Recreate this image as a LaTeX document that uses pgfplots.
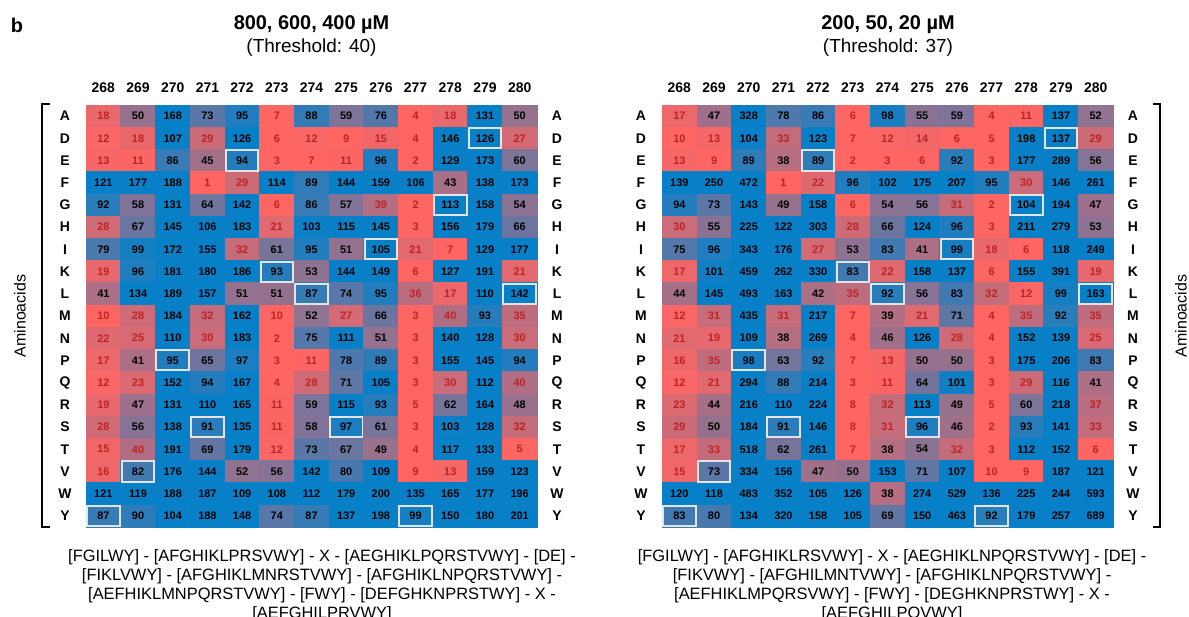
\documentclass[border=0pt]{standalone}
\usepackage{fontspec}
\setmainfont{Liberation Sans}
\usepackage{pgfplots}
\pgfplotsset{compat=1.18}
\usepackage{pgfplotstable}
\definecolor{numred}{RGB}{190,35,35}
\definecolor{boxc}{RGB}{228,228,228}

% 800, 600, 400 uM ; rows A D E F G H I K L M N P Q R S T V W Y ; columns 268..280
\pgfplotstableread[row sep=\\]{
v\\
18\\ 50\\ 168\\ 73\\ 95\\ 7\\ 88\\ 59\\ 76\\ 4\\ 18\\ 131\\ 50\\
12\\ 18\\ 107\\ 29\\ 126\\ 6\\ 12\\ 9\\ 15\\ 4\\ 146\\ 126\\ 27\\
13\\ 11\\ 86\\ 45\\ 94\\ 3\\ 7\\ 11\\ 96\\ 2\\ 129\\ 173\\ 60\\
121\\ 177\\ 188\\ 1\\ 29\\ 114\\ 89\\ 144\\ 159\\ 106\\ 43\\ 138\\ 173\\
92\\ 58\\ 131\\ 64\\ 142\\ 6\\ 86\\ 57\\ 39\\ 2\\ 113\\ 158\\ 54\\
28\\ 67\\ 145\\ 106\\ 183\\ 21\\ 103\\ 115\\ 145\\ 3\\ 156\\ 179\\ 66\\
79\\ 99\\ 172\\ 155\\ 32\\ 61\\ 95\\ 51\\ 105\\ 21\\ 7\\ 129\\ 177\\
19\\ 96\\ 181\\ 180\\ 186\\ 93\\ 53\\ 144\\ 149\\ 6\\ 127\\ 191\\ 21\\
41\\ 134\\ 189\\ 157\\ 51\\ 51\\ 87\\ 74\\ 95\\ 36\\ 17\\ 110\\ 142\\
10\\ 28\\ 184\\ 32\\ 162\\ 10\\ 52\\ 27\\ 66\\ 3\\ 40\\ 93\\ 35\\
22\\ 25\\ 110\\ 30\\ 183\\ 2\\ 75\\ 111\\ 51\\ 3\\ 140\\ 128\\ 30\\
17\\ 41\\ 95\\ 65\\ 97\\ 3\\ 11\\ 78\\ 89\\ 3\\ 155\\ 145\\ 94\\
12\\ 23\\ 152\\ 94\\ 167\\ 4\\ 28\\ 71\\ 105\\ 3\\ 30\\ 112\\ 40\\
19\\ 47\\ 131\\ 110\\ 165\\ 11\\ 59\\ 115\\ 93\\ 5\\ 62\\ 164\\ 48\\
28\\ 56\\ 138\\ 91\\ 135\\ 11\\ 58\\ 97\\ 61\\ 3\\ 103\\ 128\\ 32\\
15\\ 40\\ 191\\ 69\\ 179\\ 12\\ 73\\ 67\\ 49\\ 4\\ 117\\ 133\\ 5\\
16\\ 82\\ 176\\ 144\\ 52\\ 56\\ 142\\ 80\\ 109\\ 9\\ 13\\ 159\\ 123\\
121\\ 119\\ 188\\ 187\\ 109\\ 108\\ 112\\ 179\\ 200\\ 135\\ 165\\ 177\\ 196\\
87\\ 90\\ 104\\ 188\\ 148\\ 74\\ 87\\ 137\\ 198\\ 99\\ 150\\ 180\\ 201\\
}\tabL

% 200, 50, 20 uM
\pgfplotstableread[row sep=\\]{
v\\
17\\ 47\\ 328\\ 78\\ 86\\ 6\\ 98\\ 55\\ 59\\ 4\\ 11\\ 137\\ 52\\
10\\ 13\\ 104\\ 33\\ 123\\ 7\\ 12\\ 14\\ 6\\ 5\\ 198\\ 137\\ 29\\
13\\ 9\\ 89\\ 38\\ 89\\ 2\\ 3\\ 6\\ 92\\ 3\\ 177\\ 289\\ 56\\
139\\ 250\\ 472\\ 1\\ 22\\ 96\\ 102\\ 175\\ 207\\ 95\\ 30\\ 146\\ 261\\
94\\ 73\\ 143\\ 49\\ 158\\ 6\\ 54\\ 56\\ 31\\ 2\\ 104\\ 194\\ 47\\
30\\ 55\\ 225\\ 122\\ 303\\ 28\\ 66\\ 124\\ 96\\ 3\\ 211\\ 279\\ 53\\
75\\ 96\\ 343\\ 176\\ 27\\ 53\\ 83\\ 41\\ 99\\ 18\\ 6\\ 118\\ 249\\
17\\ 101\\ 459\\ 262\\ 330\\ 83\\ 22\\ 158\\ 137\\ 6\\ 155\\ 391\\ 19\\
44\\ 145\\ 493\\ 163\\ 42\\ 35\\ 92\\ 56\\ 83\\ 32\\ 12\\ 99\\ 163\\
12\\ 31\\ 435\\ 31\\ 217\\ 7\\ 39\\ 21\\ 71\\ 4\\ 35\\ 92\\ 35\\
21\\ 19\\ 109\\ 38\\ 269\\ 4\\ 46\\ 126\\ 28\\ 4\\ 152\\ 139\\ 25\\
16\\ 35\\ 98\\ 63\\ 92\\ 7\\ 13\\ 50\\ 50\\ 3\\ 175\\ 206\\ 83\\
12\\ 21\\ 294\\ 88\\ 214\\ 3\\ 11\\ 64\\ 101\\ 3\\ 29\\ 116\\ 41\\
23\\ 44\\ 216\\ 110\\ 224\\ 8\\ 32\\ 113\\ 49\\ 5\\ 60\\ 218\\ 37\\
29\\ 50\\ 184\\ 91\\ 146\\ 8\\ 31\\ 96\\ 46\\ 2\\ 93\\ 141\\ 33\\
17\\ 33\\ 518\\ 62\\ 261\\ 7\\ 38\\ 54\\ 32\\ 3\\ 112\\ 152\\ 6\\
15\\ 73\\ 334\\ 156\\ 47\\ 50\\ 153\\ 71\\ 107\\ 10\\ 9\\ 187\\ 121\\
120\\ 118\\ 483\\ 352\\ 105\\ 126\\ 38\\ 274\\ 529\\ 136\\ 225\\ 244\\ 593\\
83\\ 80\\ 134\\ 320\\ 158\\ 105\\ 69\\ 150\\ 463\\ 92\\ 179\\ 257\\ 689\\
}\tabR

\pgfplotsset{
  hm/.style={scale only axis, width=451bp, height=422bp,
    xmin=-0.5, xmax=12.5, ymin=-0.5, ymax=18.5,
    axis line style={draw=none}, major tick length=0pt, clip=false,
    colormap={rb}{rgb255=(254,102,100) rgb255=(8,128,200)},
    point meta min=10, point meta max=105,
    /pgf/number format/assume math mode=true,
    ytick={0,...,18},
    yticklabels={Y,W,V,T,S,R,Q,P,N,M,L,K,I,H,G,F,E,D,A},
    yticklabel style={font=\bfseries\fontsize{14}{14}\selectfont, anchor=center}},
  hmmain/.style={hm, axis x line*=top, axis y line*=left,
    xtick={0,...,12},
    xticklabels={268,269,270,271,272,273,274,275,276,277,278,279,280},
    xticklabel style={font=\bfseries\fontsize{14}{14}\selectfont, anchor=base, yshift=13bp},
    yticklabel style={xshift=-21bp}},
  hmright/.style={hm, axis y line*=right, hide x axis, yticklabel style={xshift=20bp}},
  table/cellxy/.style={x index=0, y index=0, meta index=0,
    x expr={\coordindex-13*floor((\coordindex+0.5)/13)},
    y expr={18-floor((\coordindex+0.5)/13)}},
}

\newcommand\cellplots[2]{%
  \addplot[matrix plot*, mesh/cols=13, point meta=explicit]
    table[cellxy] {#1};
  \addplot[only marks, mark=square, mark size=10.1pt,
    mark options={xscale=1.62, draw=boxc, line width=2pt}]
    coordinates {(0,0) (1,2) (2,7) (3,4) (4,16) (5,11) (6,10) (7,4) (8,12) (9,0) (10,14) (11,17) (12,10)};
  \addplot[draw=none, mark=none, point meta=explicit symbolic,
    nodes near coords={\ifnum\pgfplotspointmeta>#2\relax\color{black}\else\color{numred}\fi\pgfplotspointmeta},
    nodes near coords align=center,
    every node near coord/.append style={font=\bfseries\fontsize{11}{11}\selectfont, inner sep=0pt}]
    table[cellxy] {#1};
}

\begin{document}
\begin{tikzpicture}
\useasboundingbox (0,0) rectangle (1189bp,-617bp);

\begin{axis}[hmmain, at={(86bp,-105bp)}, anchor=north west]
\cellplots{\tabL}{40}
\end{axis}
\begin{axis}[hmright, at={(86bp,-105bp)}, anchor=north west]
\end{axis}

\begin{axis}[hmmain, at={(662bp,-105bp)}, anchor=north west]
\cellplots{\tabR}{37}
\end{axis}
\begin{axis}[hmright, at={(662bp,-105bp)}, anchor=north west]
\end{axis}

% panel letter and titles
\node[anchor=base, font=\bfseries\fontsize{20}{20}\selectfont] at (17bp,-32bp) {b};
\node[anchor=base, font=\bfseries\fontsize{20}{20}\selectfont] at (311.5bp,-29bp) {800, 600, 400 µM};
\node[anchor=base, font=\fontsize{19}{19}\selectfont] at (311.5bp,-52bp) {(Threshold: 40)};
\node[anchor=base, font=\bfseries\fontsize{20}{20}\selectfont] at (888bp,-29bp) {200, 50, 20 µM};
\node[anchor=base, font=\fontsize{19}{19}\selectfont] at (888bp,-52bp) {(Threshold: 37)};

% brackets and side labels
\draw[line width=2.5bp] (50bp,-104bp) -- (42bp,-104bp) -- (42bp,-527bp) -- (50bp,-527bp);
\draw[line width=2.5bp] (1153bp,-104bp) -- (1160bp,-104bp) -- (1160bp,-527bp) -- (1153bp,-527bp);
\node[rotate=90, font=\fontsize{16}{16}\selectfont] at (20bp,-316bp) {Aminoacids};
\node[rotate=90, font=\fontsize{16}{16}\selectfont] at (1181bp,-316bp) {Aminoacids};

% consensus motifs
\begin{scope}[every node/.style={anchor=base, font=\fontsize{16.5}{16.5}\selectfont}]
\node at (322bp,-561bp) {[FGILWY] - [AFGHIKLPRSVWY] - X - [AEGHIKLPQRSTVWY] - [DE] -};
\node at (322bp,-580bp) {[FIKLVWY] - [AFGHIKLMNRSTVWY] - [AFGHIKLNPQRSTVWY] -};
\node at (322bp,-599bp) {[AEFHIKLMNPQRSTVWY] - [FWY] - [DEFGHKNPRSTWY] - X -};
\node at (322bp,-618bp) {[AEFGHILPRVWY]};
\node at (892bp,-561bp) {[FGILWY] - [AFGHIKLRSVWY] - X - [AEGHIKLNPQRSTVWY] - [DE] -};
\node at (892bp,-580bp) {[FIKVWY] - [AFGHILMNTVWY] - [AFGHIKLNPQRSTVWY] -};
\node at (892bp,-599bp) {[AEFHIKLMPQRSVWY] - [FWY] - [DEGHKNPRSTWY] - X -};
\node at (892bp,-618bp) {[AEFGHILPQVWY]};
\end{scope}
\end{tikzpicture}
\end{document}
